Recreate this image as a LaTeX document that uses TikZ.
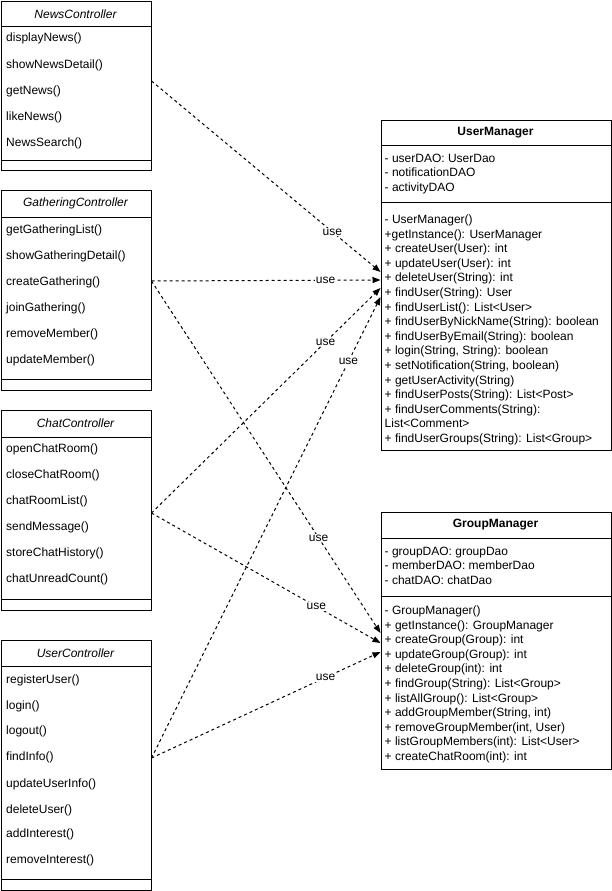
\documentclass[tikz,border=0pt]{standalone}
\usepackage{fontspec}
\setmainfont{Liberation Sans}
\usetikzlibrary{arrows.meta, calc}
\tikzset{
  classbox/.style = {draw, line width=1pt, anchor=north west, inner sep=0pt, minimum width=150pt},
  managerbox/.style = {draw, line width=1pt, anchor=north west, inner sep=0pt, minimum width=230pt},
  sep/.style = {line width=1pt},
  classname/.style = {font=\fontsize{12}{14.6}\selectfont\itshape},
  managername/.style = {font=\fontsize{12}{14.6}\selectfont\bfseries},
  member/.style = {anchor=west, inner sep=0pt, font=\fontsize{12}{14.6}\selectfont},
  memberlist/.style = {anchor=north west, inner sep=0pt, align=left, font=\fontsize{12}{14.6}\selectfont},
  uses/.style = {line width=1pt, dash pattern=on 3pt off 3pt, -{Triangle[length=8pt, width=6pt]}},
  uselabel/.style = {fill=white, inner sep=1pt, font=\fontsize{12}{14.6}\selectfont}
}

\begin{document}
\begin{tikzpicture}[x=1pt, y=-1pt]
\useasboundingbox (0,0) rectangle (611,891);

\node[classbox, minimum height=169pt] (news) at (0.5,1) {};
\node[classname] (newsName) at (75.5,14) {NewsController};
\draw[sep] ($(news.north west)+(0,26)$) -- ($(news.north east)+(0,26)$);
\node[member] (displayNews) at (6,38) {displayNews()};
\node[member] (showNewsDetail) at (6,65) {showNewsDetail()};
\node[member] (getNews) at (6,91) {getNews()};
\node[member] (likeNews) at (6,117) {likeNews()};
\node[member] (newsSearch) at (6,143) {NewsSearch()};
\draw[sep] ($(news.north west)+(0,159)$) -- ($(news.north east)+(0,159)$);

\node[classbox, minimum height=200pt] (gather) at (0.5,190) {};
\node[classname] (gatherName) at (75.5,203.5) {GatheringController};
\draw[sep] ($(gather.north west)+(0,27)$) -- ($(gather.north east)+(0,27)$);
\node[member] (getGatheringList) at (6,230) {getGatheringList()};
\node[member] (showGatheringDetail) at (6,256) {showGatheringDetail()};
\node[member] (createGathering) at (6,282) {createGathering()};
\node[member] (joinGathering) at (6,308) {joinGathering()};
\node[member] (removeMember) at (6,334) {removeMember()};
\node[member] (updateMember) at (6,360) {updateMember()};
\draw[sep] ($(gather.north west)+(0,189)$) -- ($(gather.north east)+(0,189)$);

\node[classbox, minimum height=200pt] (chat) at (0.5,410) {};
\node[classname] (chatName) at (75.5,423.5) {ChatController};
\draw[sep] ($(chat.north west)+(0,27)$) -- ($(chat.north east)+(0,27)$);
\node[member] (openChatRoom) at (6,449) {openChatRoom()};
\node[member] (closeChatRoom) at (6,475) {closeChatRoom()};
\node[member] (chatRoomList) at (6,501) {chatRoomList()};
\node[member] (sendMessage) at (6,527) {sendMessage()};
\node[member] (storeChatHistory) at (6,553) {storeChatHistory()};
\node[member] (chatUnreadCount) at (6,579) {chatUnreadCount()};
\draw[sep] ($(chat.north west)+(0,189)$) -- ($(chat.north east)+(0,189)$);

\node[classbox, minimum height=250pt] (userc) at (0.5,640) {};
\node[classname] (usercName) at (75.5,653) {UserController};
\draw[sep] ($(userc.north west)+(0,26)$) -- ($(userc.north east)+(0,26)$);
\node[member] (registerUser) at (6,680) {registerUser()};
\node[member] (login) at (6,706) {login()};
\node[member] (logout) at (6,731) {logout()};
\node[member] (findInfo) at (6,757) {findInfo()};
\node[member] (updateUserInfo) at (6,784) {updateUserInfo()};
\node[member] (deleteUser) at (6,810) {deleteUser()};
\node[member] (addInterest) at (6,834) {addInterest()};
\node[member] (removeInterest) at (6,860) {removeInterest()};
\draw[sep] ($(userc.north west)+(0,239)$) -- ($(userc.north east)+(0,239)$);

\node[managerbox, minimum height=330.5pt] (um) at (380.5,119.5) {};
\node[managername] (umName) at (495.5,132.5) {UserManager};
\draw[sep] ($(um.north west)+(0,26)$) -- ($(um.north east)+(0,26)$);
\node[memberlist] (umFields) at (384.5,153.6) {- userDAO: UserDao\\- notificationDAO\\- activityDAO};
\draw[sep] ($(um.north west)+(0,83)$) -- ($(um.north east)+(0,83)$);
\node[memberlist] (umMethods) at (384.5,214.6) {- UserManager()\\+getInstance(): UserManager\\+ createUser(User): int\\+ updateUser(User): int\\+ deleteUser(String): int\\+ findUser(String): User\\+ findUserList(): List<User>\\+ findUserByNickName(String): boolean\\+ findUserByEmail(String): boolean\\+ login(String, String): boolean\\+ setNotification(String, boolean)\\+ getUserActivity(String)\\+ findUserPosts(String): List<Post>\\+ findUserComments(String):\\List<Comment>\\+ findUserGroups(String): List<Group>};

\node[managerbox, minimum height=257pt] (gm) at (380.5,512) {};
\node[managername] (gmName) at (495.5,525) {GroupManager};
\draw[sep] ($(gm.north west)+(0,26)$) -- ($(gm.north east)+(0,26)$);
\node[memberlist] (gmFields) at (384.5,546.6) {- groupDAO: groupDao\\- memberDAO: memberDao\\- chatDAO: chatDao};
\draw[sep] ($(gm.north west)+(0,84)$) -- ($(gm.north east)+(0,84)$);
\node[memberlist] (gmMethods) at (384.5,605.6) {- GroupManager()\\+ getInstance(): GroupManager\\+ createGroup(Group): int\\+ updateGroup(Group): int\\+ deleteGroup(int): int\\+ findGroup(String): List<Group>\\+ listAllGroup(): List<Group>\\+ addGroupMember(String, int)\\+ removeGroupMember(int, User)\\+ listGroupMembers(int): List<User>\\+ createChatRoom(int): int};

\draw[uses] ([yshift=-80pt]news.north east) -- node[uselabel, pos=0.79] {use} ([yshift=-152.5pt]um.north west);
\draw[uses] ([yshift=-91pt]gather.north east) -- node[uselabel, pos=0.76] {use} ([yshift=-160.5pt]um.north west);
\draw[uses] ([yshift=-103pt]chat.north east) -- node[uselabel, pos=0.76] {use} ([yshift=-168.5pt]um.north west);
\draw[uses] ([yshift=-118pt]userc.north east) -- node[uselabel, pos=0.86] {use} ([yshift=-177.5pt]um.north west);
\draw[uses] ([yshift=-91pt]gather.north east) -- node[uselabel, pos=0.73] {use} ([yshift=-121pt]gm.north west);
\draw[uses] ([yshift=-103pt]chat.north east) -- node[uselabel, pos=0.72] {use} ([yshift=-131pt]gm.north west);
\draw[uses] ([yshift=-118pt]userc.north east) -- node[uselabel, pos=0.76] {use} ([yshift=-140pt]gm.north west);
\end{tikzpicture}
\end{document}
